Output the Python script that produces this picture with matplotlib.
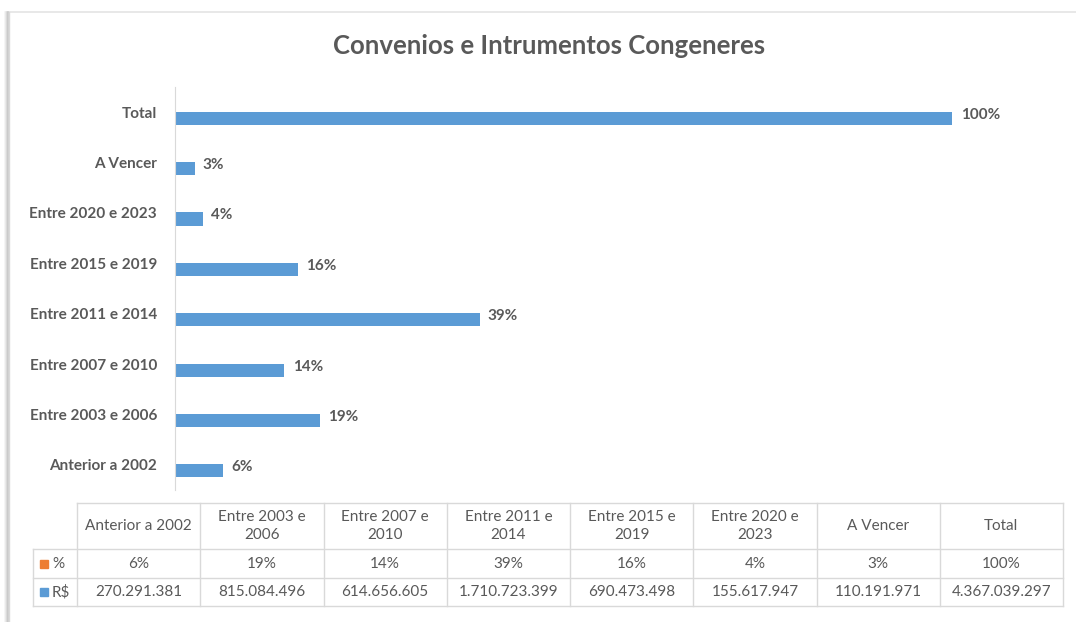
import textwrap
import matplotlib.pyplot as plt
from matplotlib.patches import Rectangle

plt.rcParams['font.family'] = ['Lato', 'DejaVu Sans']

categorias = ["Anterior a 2002", "Entre 2003 e 2006", "Entre 2007 e 2010",
              "Entre 2011 e 2014", "Entre 2015 e 2019", "Entre 2020 e 2023",
              "A Vencer", "Total"]
percentual = [6, 19, 14, 39, 16, 4, 3, 100]
reais = [270291381, 815084496, 614656605, 1710723399,
         690473498, 155617947, 110191971, 4367039297]

azul = '#5B9BD5'
laranja = '#ED7D31'
cinza = '#595959'
W, H = 1076, 622

fig = plt.figure(figsize=(W / 100, H / 100), dpi=100)

# moldura (linha superior e sombra na esquerda)
bg = fig.add_axes([0, 0, 1, 1])
bg.set_xlim(0, W)
bg.set_ylim(H, 0)
bg.axis('off')
bg.plot([9, W], [12, 12], color='#e4e4e4', lw=1.2)
for i, c in enumerate(['#f2f2f2', '#e6e6e6', '#d6d6d6', '#c4c4c4']):
    bg.plot([5 + i, 5 + i], [12, H], color=c, lw=1.1)
bg.plot([9, 9], [12, H], color='#d9d9d9', lw=1)

fig.text(549 / W, 1 - 46 / H, "Convenios e Intrumentos Congeneres",
         ha='center', va='center', fontsize=18.5, fontweight='bold', color=cinza)

# gráfico de barras
ax = fig.add_axes([175 / W, 1 - 490 / H, (1065 - 175) / W, (490 - 87) / H])
y = range(len(categorias))
bars = ax.barh([i - 0.12 for i in y], reais, height=0.26, color=azul)
ax.set_xlim(0, 5e9)
ax.set_ylim(-0.5, len(categorias) - 0.5)
ax.set_yticks(list(y))
ax.set_yticklabels(categorias, fontsize=11, fontweight='bold', color=cinza)
ax.tick_params(axis='y', length=0, pad=13)
ax.set_xticks([])
for s in ['top', 'right', 'bottom']:
    ax.spines[s].set_visible(False)
ax.spines['left'].set_color('#d9d9d9')

for i, (v, p) in enumerate(zip(reais, percentual)):
    ax.annotate(f"{p}%", (v, i - 0.05), xytext=(6, 0), textcoords='offset points',
                ha='left', va='center', fontsize=11, fontweight='bold', color=cinza)

# tabela de dados
x0, x_leg, col_w = 33, 77, 123.25
linhas = [503, 549, 578, 606]
x_fim = x_leg + col_w * len(categorias)
ln = dict(color='#d9d9d9', lw=1)
bg.plot([x_leg, x_fim], [linhas[0], linhas[0]], **ln)
for yl in linhas[1:]:
    bg.plot([x0, x_fim], [yl, yl], **ln)
bg.plot([x0, x0], [linhas[1], linhas[3]], **ln)
for k in range(len(categorias) + 1):
    xv = x_leg + col_w * k
    bg.plot([xv, xv], [linhas[0], linhas[3]], **ln)

for k, (c, p, v) in enumerate(zip(categorias, percentual, reais)):
    xc = x_leg + col_w * (k + 0.5)
    bg.text(xc, (linhas[0] + linhas[1]) / 2, textwrap.fill(c, 15), ha='center',
            va='center', fontsize=11, color=cinza, linespacing=1.45)
    bg.text(xc, (linhas[1] + linhas[2]) / 2, f"{p}%", ha='center', va='center',
            fontsize=11, color=cinza)
    bg.text(xc, (linhas[2] + linhas[3]) / 2, f"{v:,}".replace(",", "."),
            ha='center', va='center', fontsize=11, color=cinza)

for (ya, yb), cor, rotulo in [((linhas[1], linhas[2]), laranja, "%"),
                              ((linhas[2], linhas[3]), azul, "R$")]:
    ym = (ya + yb) / 2
    bg.add_patch(Rectangle((40, ym - 4), 8, 8, color=cor))
    bg.text(52, ym, rotulo, ha='left', va='center', fontsize=11, color=cinza)

fig.savefig('out.png', dpi=100)
